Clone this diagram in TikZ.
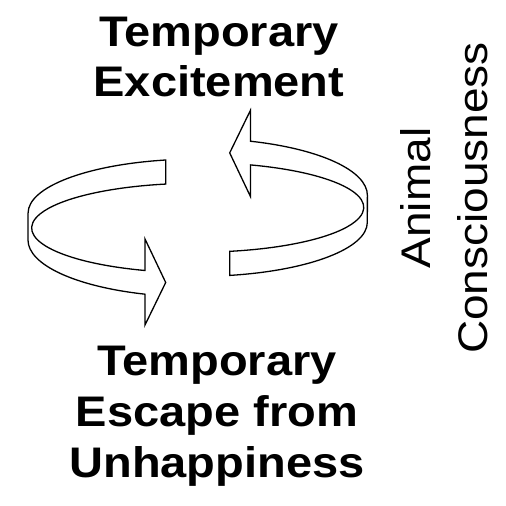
\documentclass[tikz,border=0pt]{standalone}
\usepackage{fontspec}
\setmainfont{Liberation Sans}
\usetikzlibrary{positioning}
\tikzset{
  ribbon/.style={draw=black,line width=1.3pt,fill=white,line join=miter},
  phase/.style={font=\fontsize{47}{56}\selectfont\bfseries,align=center,yscale=0.91,inner sep=0pt},
  side/.style={font=\fontsize{46}{63}\selectfont,align=center,rotate=90,yscale=0.9,inner sep=0pt},
  halfloop/.pic={
    % back edge, left side, front edge, head, inner edge
    \draw[ribbon] (-32,-57.7) arc[start angle=-100.9,end angle=-180,x radius=169.7,y radius=54]
      -- (-169.7,22.3) arc[start angle=180,end angle=108.1,x radius=169.7,y radius=57]
      -- (-52.7,107.3) -- (-32,64.8) -- (-52.7,21.3) -- (-52.7,52.8)
      arc[start angle=108.5,end angle=258.9,x radius=166,y radius=44.8] -- cycle;
  },
}
\begin{document}
\begin{tikzpicture}[x=1pt,y=-1pt]
\useasboundingbox (0,0) rectangle (506,506);
% the two halves of the loop
\pic (down) at (197.7,217.7) {halfloop};
\pic[rotate=180] (up) at (197.7,217.7) {halfloop};
% labels
\node[phase] (excite) at (219,57) {Temporary\\Excitement};
\node[phase] (escape) at (217,416) {Temporary\\Escape from\\Unhappiness};
\node[side] (animal) at (444,198) {Animal\\Consciousness};
\end{tikzpicture}
\end{document}
